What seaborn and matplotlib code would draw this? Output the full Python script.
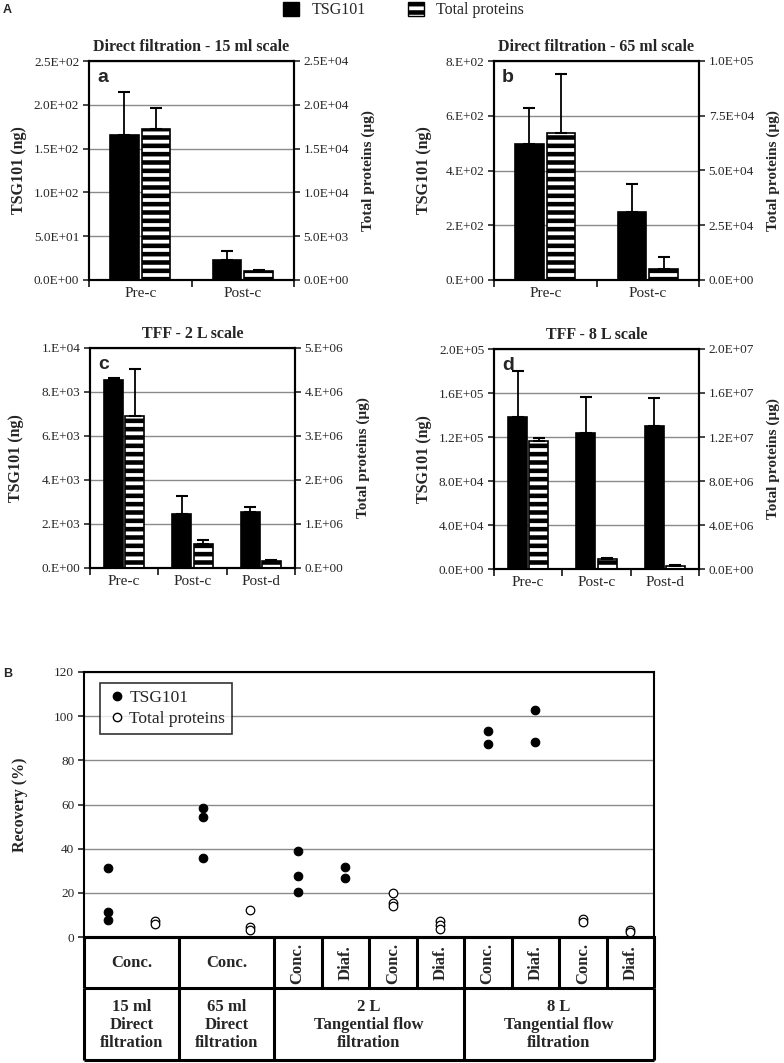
import numpy as np
import pandas as pd
import seaborn as sns
import matplotlib.pyplot as plt
from matplotlib.ticker import FuncFormatter, FixedLocator
from matplotlib.patches import Patch
from matplotlib.lines import Line2D

sns.set_style('ticks')
plt.rcParams['font.family'] = ['Liberation Serif', 'DejaVu Serif']
plt.rcParams['hatch.linewidth'] = 3.3
plt.rcParams['hatch.color'] = 'black'

# ---- data: panel A (bar charts, mean + SD) ----
series = ['TSG101', 'Total proteins']
stages_2 = ['Pre-c', 'Post-c']
stages_3 = ['Pre-c', 'Post-c', 'Post-d']

a_tsg = [166, 23.2]
a_tsg_err = [49, 10.3]
a_tp = [1.72e4, 1.07e3]
a_tp_err = [2.4e3, 40]

b_tsg = [497, 247]
b_tsg_err = [130, 104]
b_tp = [6.7e4, 5.2e3]
b_tp_err = [2.71e4, 5.5e3]

c_tsg = [8550, 2470, 2560]
c_tsg_err = [90, 820, 230]
c_tp = [3.45e6, 5.4e5, 1.6e5]
c_tp_err = [1.07e6, 1.0e5, 2e4]

d_tsg = [1.38e5, 1.24e5, 1.30e5]
d_tsg_err = [4.2e4, 3.2e4, 2.55e4]
d_tp = [1.164e7, 9.5e5, 3.0e5]
d_tp_err = [2.4e5, 5e4, 3e4]

# ---- data: panel B (recovery %) ----
rec_15ml_tsg = [31.1, 11.1, 7.9]
rec_15ml_tp = [7.3, 6.1]
rec_65ml_tsg = [58.5, 54.5, 35.6]
rec_65ml_tp = [12.1, 4.5, 3.0]
rec_2l_conc_tsg = [38.9, 27.7, 20.3]
rec_2l_diaf_tsg = [31.8, 26.8]
rec_2l_conc_tp = [20.0, 15.2, 14.2]
rec_2l_diaf_tp = [7.3, 5.3, 3.8]
rec_8l_conc_tsg = [93.3, 87.6]
rec_8l_diaf_tsg = [103.0, 88.5]
rec_8l_conc_tp = [8.2, 7.0]
rec_8l_diaf_tp = [3.3, 2.3]

row1_labels = ['Conc.', 'Conc.', 'Conc.', 'Diaf.', 'Conc.', 'Diaf.', 'Conc.', 'Diaf.', 'Conc.', 'Diaf.']
row2_labels = ['15 ml\nDirect\nfiltration', '65 ml\nDirect\nfiltration',
               '2 L\nTangential flow\nfiltration', '8 L\nTangential flow\nfiltration']

W, H = 784, 1063
fig = plt.figure(figsize=(W / 100, H / 100), dpi=100)


def px_axes(left, top, right, bottom):
    return fig.add_axes([left / W, 1 - bottom / H, (right - left) / W, (bottom - top) / H])


def bar_panel(ax, stages, tsg, tsg_err, tp, tp_err, lmax, lstep, rmax, rstep,
              lfmt, rfmt, title, letter, lab_l, lab_r):
    ax2 = ax.twinx()
    df_tsg = pd.DataFrame({'stage': stages, 'value': tsg, 'series': 'TSG101'})
    df_tp = pd.DataFrame({'stage': stages, 'value': tp, 'series': 'Total proteins'})
    for a, df in ((ax, df_tsg), (ax2, df_tp)):
        sns.barplot(data=df, x='stage', y='value', hue='series', hue_order=series, order=stages,
                    palette={'TSG101': 'black', 'Total proteins': 'white'}, dodge=True,
                    width=0.62, gap=0.1, errorbar=None, legend=False,
                    edgecolor='black', linewidth=1.2, ax=a)
    for p in ax2.patches:
        p.set_hatch('--')
    for a, err in ((ax, tsg_err), (ax2, tp_err)):
        bars = sorted(a.patches, key=lambda p: p.get_x())
        for p, e in zip(bars, err):
            a.errorbar(p.get_x() + p.get_width() / 2, p.get_height(), yerr=[[0], [e]],
                       color='black', lw=1.3, capsize=4, capthick=1.5)
    n = len(stages)
    ax.set_xlim(-0.5, n - 0.5)
    ax.set_ylim(0, lmax)
    ax2.set_ylim(0, rmax)
    ax.set_yticks(np.arange(0, lmax + lstep / 2, lstep))
    ax2.set_yticks(np.arange(0, rmax + rstep / 2, rstep))
    ax.yaxis.set_major_formatter(FuncFormatter(lambda v, _: lfmt.format(v)))
    ax2.yaxis.set_major_formatter(FuncFormatter(lambda v, _: rfmt.format(v)))
    ax.set_xticks(range(n))
    ax.set_xticklabels(stages)
    ax.xaxis.set_minor_locator(FixedLocator(np.arange(-0.5, n, 1)))
    ax.tick_params(axis='x', which='major', length=0, pad=5, labelsize=11)
    ax.tick_params(axis='x', which='minor', length=5, width=1.3, direction='out')
    ax.tick_params(axis='y', length=4, width=1.2, labelsize=9.5, pad=3)
    ax2.tick_params(axis='y', length=4, width=1.2, labelsize=9.5, pad=3)
    ax.yaxis.grid(True, color='#8a8a8a', lw=1)
    ax.set_axisbelow(True)
    for a in (ax, ax2):
        for s in a.spines.values():
            s.set_color('black')
            s.set_linewidth(1.5)
    ax.set_xlabel('')
    ax.set_ylabel('TSG101 (ng)', fontweight='bold', fontsize=11.5)
    ax2.set_ylabel('Total proteins (\u00b5g)', fontweight='bold', fontsize=11)
    ax.yaxis.set_label_coords(lab_l, 0.5)
    ax2.yaxis.set_label_coords(lab_r, 0.5)
    ax.set_title(title, fontweight='bold', fontsize=11.5, pad=7)
    ax2.text(0.04, 0.965, letter, transform=ax2.transAxes, fontfamily='Liberation Sans',
             fontweight='bold', fontsize=14, va='top', ha='left')


ax_a = px_axes(89, 61, 294, 280)
bar_panel(ax_a, stages_2, a_tsg, a_tsg_err, a_tp, a_tp_err, 250, 50, 2.5e4, 5e3,
          '{:.1E}', '{:.1E}', 'Direct filtration - 15 ml scale', 'a', -0.30, 1.33)
ax_b = px_axes(494, 61, 699, 280)
bar_panel(ax_b, stages_2, b_tsg, b_tsg_err, b_tp, b_tp_err, 800, 200, 1e5, 2.5e4,
          '{:#.0E}', '{:.1E}', 'Direct filtration - 65 ml scale', 'b', -0.30, 1.33)
ax_c = px_axes(90, 348, 295, 568)
bar_panel(ax_c, stages_3, c_tsg, c_tsg_err, c_tp, c_tp_err, 1e4, 2e3, 5e6, 1e6,
          '{:#.0E}', '{:#.0E}', 'TFF - 2 L scale', 'c', -0.32, 1.30)
ax_d = px_axes(494, 349, 699, 569)
bar_panel(ax_d, stages_3, d_tsg, d_tsg_err, d_tp, d_tp_err, 2e5, 4e4, 2e7, 4e6,
          '{:.1E}', '{:.1E}', 'TFF - 8 L scale', 'd', -0.30, 1.33)

# top legend
leg_handles = [Patch(facecolor='black', edgecolor='black', label='TSG101'),
               Patch(facecolor='white', edgecolor='black', hatch='--', label='Total proteins')]
fig.legend(handles=leg_handles, loc='center', bbox_to_anchor=(0.515, 0.9905), ncol=2,
           frameon=False, fontsize=11.5, handlelength=1.0, handleheight=1.0,
           handletextpad=0.8, columnspacing=2.6)

# ---- panel B ----
rec_groups = [rec_15ml_tsg, rec_15ml_tp, rec_65ml_tsg, rec_65ml_tp,
              rec_2l_conc_tsg, rec_2l_diaf_tsg, rec_2l_conc_tp, rec_2l_diaf_tp,
              rec_8l_conc_tsg, rec_8l_diaf_tsg, rec_8l_conc_tp, rec_8l_diaf_tp]
rec_kinds = ['TSG101', 'Total proteins', 'TSG101', 'Total proteins',
             'TSG101', 'TSG101', 'Total proteins', 'Total proteins',
             'TSG101', 'TSG101', 'Total proteins', 'Total proteins']
rows = []
for slot, (vals, kind) in enumerate(zip(rec_groups, rec_kinds)):
    for v in vals:
        rows.append({'x': slot + 0.5, 'recovery': v, 'kind': kind})
df_rec = pd.DataFrame(rows)

axB = px_axes(84, 672, 654, 937)
sns.scatterplot(data=df_rec[df_rec['kind'] == 'TSG101'], x='x', y='recovery', color='black',
                edgecolor='black', linewidth=0.8, s=38, legend=False, ax=axB, zorder=3)
sns.scatterplot(data=df_rec[df_rec['kind'] == 'Total proteins'], x='x', y='recovery', color='white',
                edgecolor='black', linewidth=0.9, s=38, legend=False, ax=axB, zorder=3)
axB.set_xlim(0, 12)
axB.set_ylim(0, 120)
axB.set_yticks(np.arange(0, 121, 20))
axB.set_xticks([])
axB.tick_params(axis='y', length=4, width=1.2, labelsize=9.5, pad=3)
axB.yaxis.grid(True, color='#8a8a8a', lw=1)
axB.set_axisbelow(True)
for s in axB.spines.values():
    s.set_color('black')
    s.set_linewidth(1.5)
axB.spines['bottom'].set_linewidth(2.2)
axB.set_xlabel('')
axB.set_ylabel('Recovery (%)', fontweight='bold', fontsize=11.5)
axB.yaxis.set_label_coords(-0.098, 0.5)
rec_handles = [Line2D([], [], marker='o', ls='', color='black', markersize=6, label='TSG101'),
               Line2D([], [], marker='o', ls='', markerfacecolor='white', markeredgecolor='black',
                      markersize=6, label='Total proteins')]
lg = axB.legend(handles=rec_handles, loc='upper left', bbox_to_anchor=(0.028, 0.958),
                borderaxespad=0, frameon=True, fancybox=False, edgecolor='black',
                fontsize=12.5, handletextpad=0.1, handlelength=1.2, labelspacing=0.25,
                borderpad=0.4)
lg.get_frame().set_linewidth(1.2)

# table under panel B
ax_t = px_axes(84, 937, 654, 1060)
ax_t.set_xlim(0, 12)
ax_t.set_ylim(123, 0)
ax_t.axis('off')
row1_edges = [0, 2, 4, 5, 6, 7, 8, 9, 10, 11, 12]
row2_edges = [0, 2, 4, 8, 12]
ax_t.hlines([0, 51, 123], 0, 12, color='black', lw=2.2, clip_on=False)
ax_t.vlines(row1_edges, 0, 51, color='black', lw=2.2, clip_on=False)
ax_t.vlines(row2_edges, 51, 123, color='black', lw=2.2, clip_on=False)
for i, lab in enumerate(row1_labels):
    x0, x1 = row1_edges[i], row1_edges[i + 1]
    rot = 90 if x1 - x0 == 1 else 0
    ax_t.text((x0 + x1) / 2, 26, lab, rotation=rot, ha='center', va='center',
              fontweight='bold', fontsize=12)
for i, lab in enumerate(row2_labels):
    x0, x1 = row2_edges[i], row2_edges[i + 1]
    ax_t.text((x0 + x1) / 2, 88, lab, ha='center', va='center', fontweight='bold',
              fontsize=12, linespacing=1.2)

fig.text(3 / W, 1 - 4 / H, 'A', fontfamily='Liberation Sans', fontweight='bold', fontsize=9, va='top')
fig.text(3 / W, 1 - 668 / H, 'B', fontfamily='Liberation Sans', fontweight='bold', fontsize=9, va='top')

fig.savefig('out.png', dpi=100)
